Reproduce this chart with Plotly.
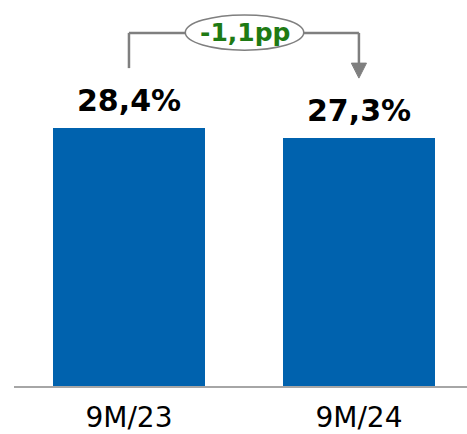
import plotly.graph_objects as go

categories = ["9M/23", "9M/24"]
values = [28.4, 27.3]
value_labels = ["28,4%", "27,3%"]
delta_label = "-1,1pp"

BAR_COLOR = "#0062AE"
LINE_COLOR = "#7F7F7F"
GREEN = "#1E7A14"
FONT = "DejaVu Sans"

fig = go.Figure()
fig.add_trace(go.Bar(
    x=[0, 1], y=values, width=0.66,
    marker=dict(color=BAR_COLOR, line=dict(width=0)),
    hoverinfo="skip",
))

top = max(values)
yb = top + 10.48      # bracket height
y0l = values[0] + 6.6 # left leg bottom
tip = values[1] + 6.6 # arrow tip
hw = 0.033
base = tip + 1.65

shapes = [
    dict(type="line", x0=0, x1=0, y0=y0l, y1=yb, line=dict(color=LINE_COLOR, width=2.5)),
    dict(type="line", x0=0, x1=0.25, y0=yb, y1=yb, line=dict(color=LINE_COLOR, width=2.5)),
    dict(type="line", x0=0.76, x1=1, y0=yb, y1=yb, line=dict(color=LINE_COLOR, width=2.5)),
    dict(type="line", x0=1, x1=1, y0=yb, y1=base, line=dict(color=LINE_COLOR, width=2.5)),
    dict(type="path", path=f"M {1-hw} {base} L {1+hw} {base} L 1 {tip} Z",
         fillcolor=LINE_COLOR, line=dict(color=LINE_COLOR, width=1)),
    dict(type="circle", x0=0.245, x1=0.76, y0=yb - 1.9, y1=yb + 1.98,
         fillcolor="white", line=dict(color=LINE_COLOR, width=1.5)),
]

annotations = [dict(x=0.503, y=yb, text=f"<b>{delta_label}</b>", showarrow=False,
                    font=dict(family=FONT, size=25, color=GREEN))]
for i, (v, lab) in enumerate(zip(values, value_labels)):
    annotations.append(dict(x=i, y=v, text=f"<b>{lab}</b>", showarrow=False,
                            yanchor="bottom", yshift=8,
                            font=dict(family=FONT, size=30, color="#000000")))

fig.update_layout(
    width=467, height=434,
    margin=dict(l=14, r=0, t=0, b=48),
    plot_bgcolor="white", paper_bgcolor="white",
    showlegend=False,
    shapes=shapes,
    annotations=annotations,
    xaxis=dict(range=[-0.5, 1.47], tickmode="array", tickvals=[0, 1], ticktext=categories,
               tickfont=dict(family=FONT, size=28, color="#000000"),
               showgrid=False, zeroline=False, showline=True, linecolor="#A6A6A6",
               linewidth=2, ticks="", ticklabelstandoff=5),
    yaxis=dict(range=[0, 42.5], visible=False, showgrid=False, zeroline=False),
    bargap=0,
)
fig.write_html("out.html")
